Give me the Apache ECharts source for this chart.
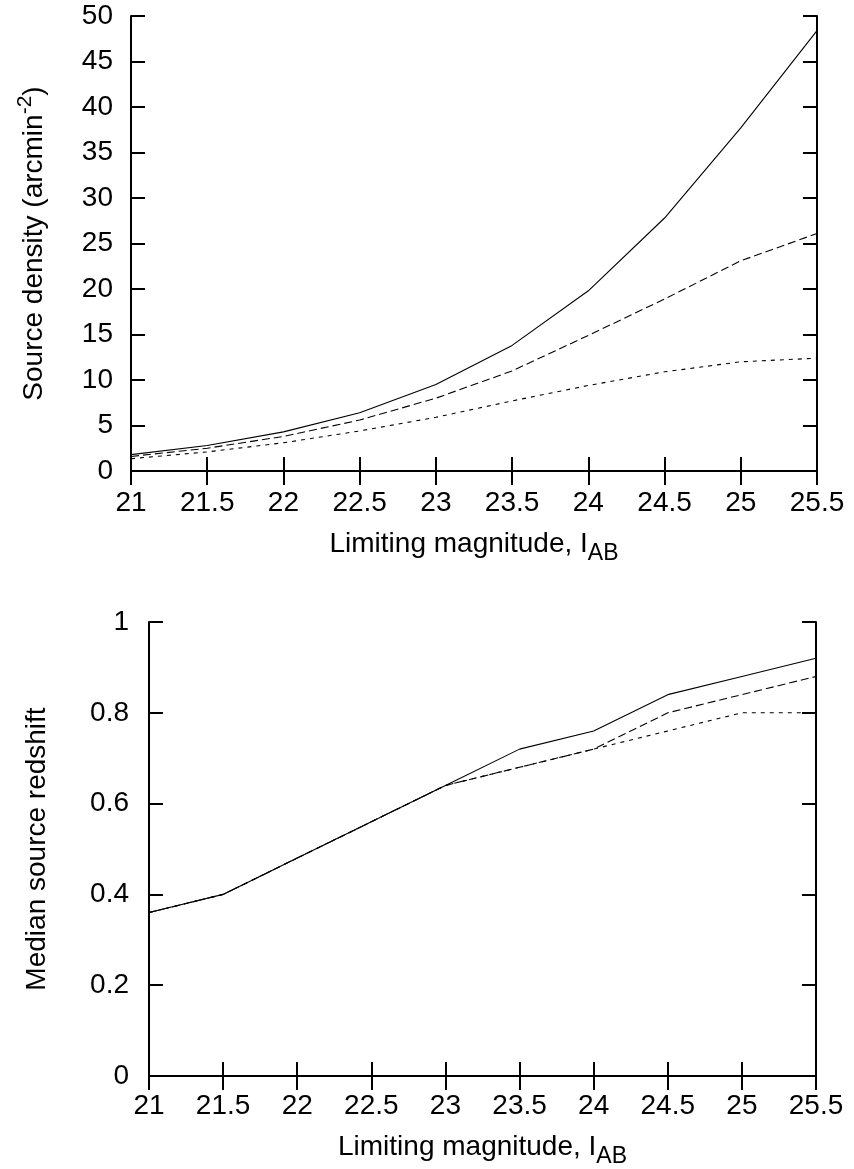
<!DOCTYPE html>
<html>
<head>
<meta charset="utf-8">
<script src="https://cdn.jsdelivr.net/npm/echarts@6/dist/echarts.min.js"></script>
<style>
html,body{margin:0;padding:0;background:#fff;}
#chart{width:854px;height:1169px;}
</style>
</head>
<body>
<div id="chart"></div>
<script>
// ---- data ----
const magnitudes = [21, 21.5, 22, 22.5, 23, 23.5, 24, 24.5, 25, 25.5];

const densitySolid  = [1.8, 2.8, 4.3, 6.4, 9.5, 13.8, 19.8, 27.8, 37.7, 48.4];
const densityDashed = [1.6, 2.5, 3.8, 5.6, 8.0, 11.0, 14.9, 18.9, 23.1, 26.1];
const densityDotted = [1.35, 2.1, 3.1, 4.4, 5.9, 7.7, 9.4, 10.9, 12.0, 12.4];

const redshiftSolid  = [0.36, 0.40, 0.48, 0.56, 0.64, 0.72, 0.76, 0.84, 0.88, 0.92];
const redshiftDashed = [0.36, 0.40, 0.48, 0.56, 0.64, 0.68, 0.72, 0.80, 0.84, 0.88];
const redshiftDotted = [0.36, 0.40, 0.48, 0.56, 0.64, 0.68, 0.72, 0.76, 0.80, 0.80];

const xTitleMain = 'Limiting magnitude, I';
const xTitleSub = 'AB';
const yTitleTop = 'Source density (arcmin';
const yTitleTopSup = '-2';
const yTitleBottom = 'Median source redshift';

// ---- styling ----
const FONT = '"Liberation Sans", Arial, Helvetica, sans-serif';
const BLACK = '#000';

function pairs(xs, ys) { return xs.map((x, i) => [x, ys[i]]); }

const axisLine = { show: true, lineStyle: { color: BLACK, width: 2 } };
const axisTick = { show: true, inside: true, length: 14, lineStyle: { color: BLACK, width: 2 } };

function xAxes(gridIndex, labelMargin, nameGap) {
  return [
    {
      type: 'value', gridIndex, position: 'bottom', min: 21, max: 25.5, interval: 0.5,
      axisLine, axisTick, splitLine: { show: false },
      axisLabel: { color: BLACK, fontSize: 28, fontFamily: FONT, margin: labelMargin },
      name: '{m|' + xTitleMain + '}{s|' + xTitleSub + '}',
      nameLocation: 'middle', nameGap,
      nameTextStyle: {
        color: BLACK, fontFamily: FONT,
        rich: {
          m: { fontSize: 28, fontFamily: FONT, color: BLACK },
          s: { fontSize: 23, fontFamily: FONT, color: BLACK, padding: [19, 0, 0, 0] }
        }
      }
    },
    {
      type: 'value', gridIndex, position: 'top', min: 21, max: 25.5, interval: 0.5,
      axisLine, axisTick, splitLine: { show: false }, axisLabel: { show: false }
    }
  ];
}

function yAxes(gridIndex, min, max, interval, labelMargin, name, nameGap, rich) {
  const nts = { color: BLACK, fontSize: 28, fontFamily: FONT };
  if (rich) nts.rich = rich;
  return [
    {
      type: 'value', gridIndex, position: 'left', min, max, interval,
      axisLine, axisTick, splitLine: { show: false },
      axisLabel: { color: BLACK, fontSize: 28, fontFamily: FONT, margin: labelMargin },
      name, nameLocation: 'middle', nameGap, nameRotate: 90,
      nameTextStyle: nts
    },
    {
      type: 'value', gridIndex, position: 'right', min, max, interval,
      axisLine, axisTick, splitLine: { show: false }, axisLabel: { show: false }
    }
  ];
}

function lineSeries(xIdx, yIdx, ys, type) {
  let dash = 'solid';
  if (type === 'dashed') dash = [8, 4];
  if (type === 'dotted') dash = [4, 5];
  return {
    type: 'line', xAxisIndex: xIdx, yAxisIndex: yIdx,
    data: pairs(magnitudes, ys),
    showSymbol: false, symbol: 'none', silent: true,
    lineStyle: { color: BLACK, width: 1.1, type: dash },
    z: 1
  };
}

const chart = echarts.init(document.getElementById('chart'), null, { renderer: 'canvas' });

const option = {
  backgroundColor: '#fff',
  animation: false,
  grid: [
    { left: 131, top: 16, width: 686, height: 455 },
    { left: 149, top: 622, width: 667, height: 455 }
  ],
  xAxis: [].concat(xAxes(0, 18, 52), xAxes(1, 16, 50)),
  yAxis: [].concat(
    yAxes(0, 0, 50, 5, 18, '{m|' + yTitleTop + '}{p|' + yTitleTopSup + '}{m|)}', 78, {
      m: { fontSize: 28, fontFamily: FONT, color: BLACK },
      p: { fontSize: 21, fontFamily: FONT, color: BLACK, padding: [0, 0, 17, 0] }
    }),
    yAxes(1, 0, 1, 0.2, 20, yTitleBottom, 98, null)
  ),
  series: [
    lineSeries(0, 0, densitySolid, 'solid'),
    lineSeries(0, 0, densityDashed, 'dashed'),
    lineSeries(0, 0, densityDotted, 'dotted'),
    lineSeries(2, 2, redshiftSolid, 'solid'),
    lineSeries(2, 2, redshiftDashed, 'dashed'),
    lineSeries(2, 2, redshiftDotted, 'dotted')
  ]
};

chart.setOption(option);
</script>
</body>
</html>
